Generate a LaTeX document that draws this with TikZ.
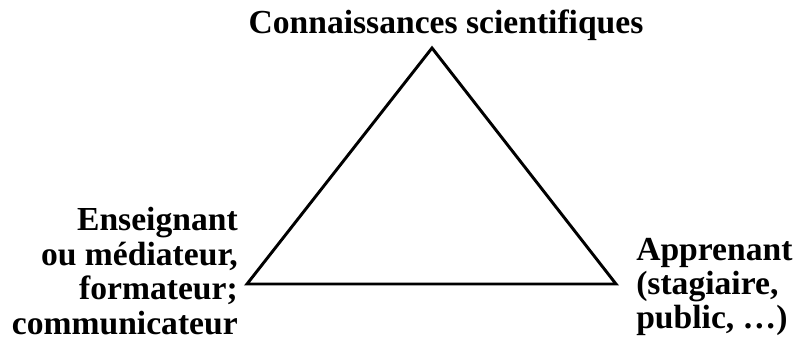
\documentclass[tikz,border=0pt]{standalone}
\usepackage{fontspec}
\setmainfont{Liberation Serif}
\usepackage{tikz}
\usetikzlibrary{positioning}
\tikzset{
  pole/.style={font=\bfseries\fontsize{25.2}{25.8}\selectfont, inner sep=0pt},
  side/.style={line width=2.2pt, line join=miter}
}
\begin{document}
\begin{tikzpicture}[x=0.75pt,y=-0.75pt]
    \useasboundingbox (0,0) rectangle (796,361);
    \coordinate (apex) at (432,48);
    \coordinate (lcorner) at (247,284);
    \coordinate (rcorner) at (616,284);
    \draw[side] (apex) -- (lcorner) -- (rcorner) -- cycle;
    \node[pole] (savoir) at (446,25) {Connaissances scientifiques};
    \node[pole, align=right, anchor=east] (enseignant) at (238,271) {Enseignant\\ou médiateur,\\formateur;\\communicateur};
    \node[pole, align=left, anchor=west] (apprenant) at (636,287) {Apprenant\\(stagiaire,\\public, \dots)};
\end{tikzpicture}
\end{document}
